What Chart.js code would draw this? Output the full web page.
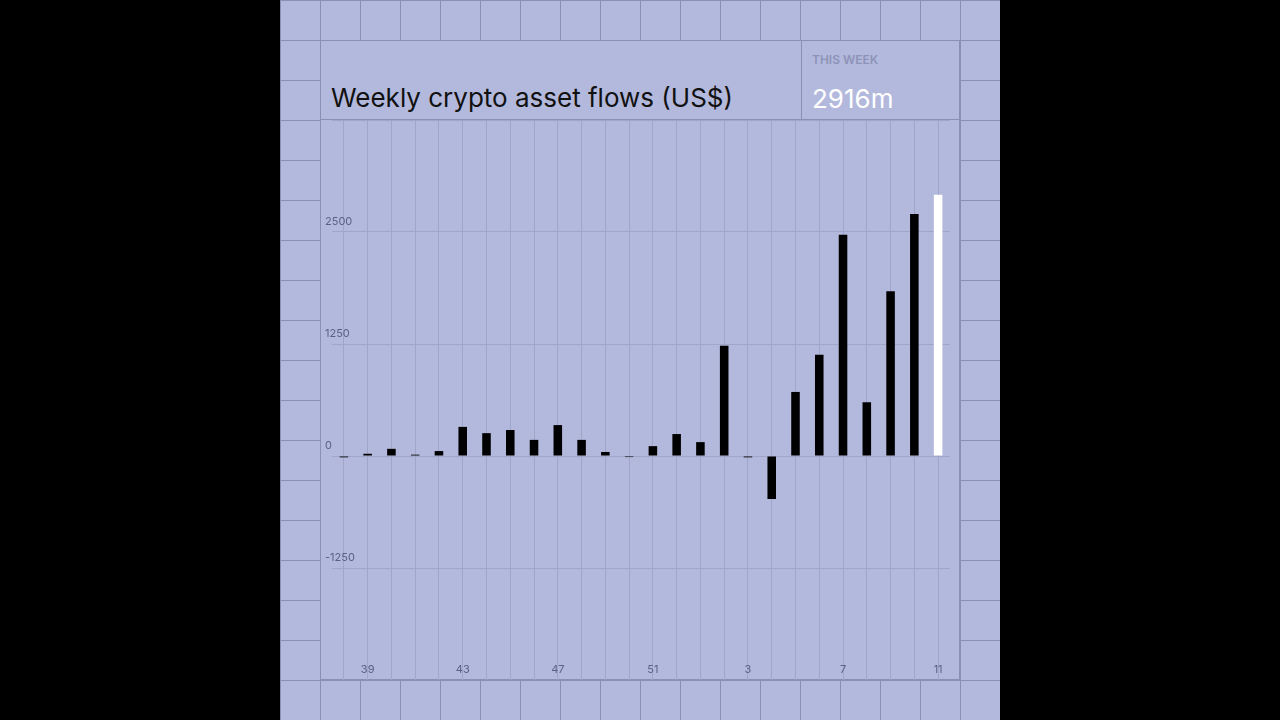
<!DOCTYPE html>
<html><head><meta charset="utf-8">
<script src="https://cdn.jsdelivr.net/npm/chart.js@4"></script>
<style>
body{margin:0;background:#000;width:1280px;height:720px;overflow:hidden;font-family:Inter,sans-serif}
#panel{position:absolute;left:280px;top:0;width:720px;height:720px;background-color:#b3b9dc;
background-image:linear-gradient(#8a90b4 1px,transparent 1px),linear-gradient(90deg,#8a90b4 1px,transparent 1px);
background-size:40px 40px;background-position:0 0}
#head{position:absolute;left:40px;top:40px;width:640px;height:80px;background:#b3b9dc;border:1px solid #8a90b4;box-sizing:border-box}
#title{position:absolute;left:10px;top:44px;font-size:26px;color:#111;line-height:1}
#week{position:absolute;left:480px;top:0;width:160px;height:80px;border-left:1px solid #8a90b4;box-sizing:border-box}
#wl{position:absolute;left:10px;top:11px;font-size:12px;color:#8d93b8;font-weight:600}
#wv{position:absolute;left:10px;top:45px;font-size:26px;color:#fff;line-height:1}
#cw{position:absolute;left:40px;top:120px;width:640px;height:560px;background:#b3b9dc;border-left:1px solid #8a90b4;border-right:1px solid #8a90b4;border-bottom:1px solid #8a90b4;box-sizing:border-box}
</style></head><body>
<div id="panel">
<div id="head"><div id="title">Weekly crypto asset flows (US$)</div>
<div id="week"><div id="wl">THIS WEEK</div><div id="wv">2916m</div></div></div>
<div id="cw"><canvas id="c" width="640" height="560"></canvas></div>
</div>
<script>
const weeks=['38','39','40','41','42','43','44','45','46','47','48','49','50','51','52','1','2','3','4','5','6','7','8','9','10','11'];
const flows=[-15,25,80,15,55,325,255,290,180,345,180,45,-12,110,245,155,1230,-15,-480,715,1130,2470,600,1840,2700,2916];
const yTicks=[2500,1250,0,-1250];
const colors=flows.map((v,i)=>i===flows.length-1?'#ffffff':'#000000');
const labelPlugin={id:'lbl',afterDraw(ch){
 const c=ch.ctx,x=ch.scales.x,y=ch.scales.y;
 c.save();c.font='11px Inter, sans-serif';c.fillStyle='#5a6085';
 c.textAlign='left';c.textBaseline='middle';
 yTicks.forEach(v=>c.fillText(String(v),4,y.getPixelForValue(v)-10));
 c.textAlign='center';
 weeks.forEach((w,i)=>{if(i%4===1)c.fillText(w,x.getPixelForValue(i),550);});
 c.restore();}};
new Chart(document.getElementById('c'),{type:'bar',
 data:{labels:weeks,datasets:[{data:flows,backgroundColor:colors,barPercentage:0.36,categoryPercentage:1}]},
 options:{responsive:false,animation:false,layout:{padding:{left:11,right:11,top:0,bottom:0}},
  plugins:{legend:{display:false},tooltip:{enabled:false}},
  scales:{
   x:{offset:true,grid:{offset:false,color:'#a0a6ca',lineWidth:1,drawTicks:false},border:{display:false},ticks:{display:false}},
   y:{min:-2500,max:3750,afterBuildTicks(s){s.ticks=[-2500,-1250,0,1250,2500,3750].map(v=>({value:v}));},
      grid:{color:'#a0a6ca',drawTicks:false},border:{display:false},ticks:{display:false}}}},
 plugins:[labelPlugin]});
</script></body></html>
